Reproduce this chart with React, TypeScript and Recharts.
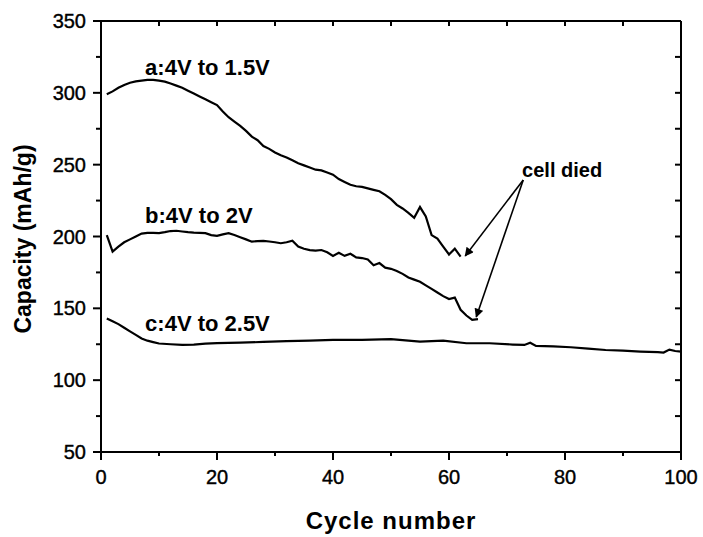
import React from 'react';
import { LineChart, Line, XAxis, YAxis, ReferenceDot, Label } from 'recharts';

const FONT = '"Liberation Sans", Arial, Helvetica, sans-serif';

// capacity (mAh/g) per cycle
const capA = [
  299, 301, 303.5, 305.5, 307, 308, 308.5, 309, 309, 308.5,
  307.8, 306.5, 305, 303.5, 301.5, 299.5, 297.5, 295.5, 293.5, 291.5,
  287, 283, 280, 277, 273.5, 269.5, 267, 263, 261, 258.5,
  256.5, 255, 253, 251, 249.5, 248, 246.5, 246, 244.5, 243,
  240, 238, 236, 235, 234.5, 233.5, 232.5, 231.5, 229, 226,
  222, 219.5, 216.5, 213, 220.5, 214, 201, 198.5, 193, 187.5,
  191.5, 186,
];
const capB = [
  201, 189.5, 193, 196, 198, 200, 202, 202.5, 202.5, 202.3,
  203, 203.8, 204, 203.5, 203, 202.7, 202.5, 202.3, 201, 200.4,
  201.5, 202.3, 201, 199.5, 198, 196.4, 196.8, 197, 196.5, 196,
  195.3, 196, 197.1, 193, 191.5, 190.5, 190.2, 190.6, 189, 186.5,
  188.7, 186.5, 188, 185.5, 185, 184, 180, 181.5, 178.3, 177.5,
  176, 174, 171.5, 170, 168.5, 166, 163.5, 161, 158.5, 156.5,
  157.5, 149, 145, 142, 142.5,
];
const cyclesC = [
  1, 2, 3, 4, 5, 6, 7, 8, 9, 10, 12, 14, 16, 18, 20, 24, 28, 32, 36, 40,
  45, 50, 55, 59, 63, 67, 71, 73, 74, 75, 78, 81, 84, 87, 90, 93, 96, 97, 98, 99, 100,
];
const capC = [
  143, 141, 139, 136.5, 134, 131.5, 129, 127.5, 126.5, 125.5, 125, 124.5, 124.8, 125.5, 125.8,
  126.1, 126.6, 127.2, 127.5, 128, 128, 128.5, 126.8, 127.5, 125.7, 125.7, 124.8, 124.5, 126,
  123.8, 123.5, 122.9, 122, 121, 120.5, 119.9, 119.5, 119.2, 121.3, 120.3, 119.9,
];

const xTicks = [0, 10, 20, 30, 40, 50, 60, 70, 80, 90, 100];
const xLabels = [0, 20, 40, 60, 80, 100];
const yTicks = [50, 75, 100, 125, 150, 175, 200, 225, 250, 275, 300, 325, 350];
const yLabels = [50, 100, 150, 200, 250, 300, 350];

// curve labels: text, cycle, capacity where the text starts
const seriesNames = ['a:4V to 1.5V', 'b:4V to 2V', 'c:4V to 2.5V'];
const nameCycle = [7.6, 7.6, 7.6];
const nameCap = [318, 215, 139.8];

// "cell died" note and the two arrows from it
const note = { text: 'cell died', cycle: 72.6, cap: 246.3 };
const arrowFrom = { cycle: 72.8, cap: 239.4 };
const arrowTo = [
  { cycle: 62.8, cap: 186.5 },
  { cycle: 64.7, cap: 144 },
];

const dataA = capA.map((v, i) => ({ cycle: i + 1, cap: v }));
const dataB = capB.map((v, i) => ({ cycle: i + 1, cap: v }));
const dataC = cyclesC.map((c, i) => ({ cycle: c, cap: capC[i] }));
const arrows = arrowTo.map((t) => [arrowFrom, t]);

const axisStyle = { stroke: '#000', strokeWidth: 2 };
const tickText = { fontFamily: FONT, fontSize: 20, fill: '#000', stroke: '#000', strokeWidth: 0.4 };

const BottomTick = (props: any) => {
  const { x, y, payload } = props;
  const major = xLabels.includes(payload.value);
  return (
    <g>
      <line x1={x} y1={y} x2={x} y2={y + (major ? 8 : 4)} stroke="#000" strokeWidth={2} />
      {major && (
        <text x={x} y={y + 32} textAnchor="middle" {...tickText}>
          {payload.value}
        </text>
      )}
    </g>
  );
};

const TopTick = (props: any) => {
  const { x, y } = props;
  return <line x1={x} y1={y} x2={x} y2={y + 5} stroke="#000" strokeWidth={2} />;
};

const LeftTick = (props: any) => {
  const { x, y, payload } = props;
  const major = yLabels.includes(payload.value);
  return (
    <g>
      <line x1={x} y1={y} x2={x - (major ? 8 : 5)} y2={y} stroke="#000" strokeWidth={2} />
      {major && (
        <text x={x - 15} y={y + 7} textAnchor="end" {...tickText}>
          {payload.value}
        </text>
      )}
    </g>
  );
};

const RightTick = (props: any) => {
  const { x, y } = props;
  return <line x1={x} y1={y} x2={x - 6} y2={y} stroke="#000" strokeWidth={2} />;
};

export default function App() {
  return (
    <div style={{ position: 'absolute', left: 0, top: 0 }}>
      <LineChart width={703} height={537} margin={{ top: 11, right: 12, left: 0, bottom: 0 }}>
        <defs>
          <marker id="head" viewBox="0 0 10 10" refX="9" refY="5" markerWidth="11" markerHeight="9"
            markerUnits="userSpaceOnUse" orient="auto">
            <path d="M0,0 L10,5 L0,10 z" fill="#000" />
          </marker>
        </defs>
        <XAxis
          dataKey="cycle"
          type="number"
          domain={[0, 100]}
          ticks={xTicks}
          height={85}
          tickSize={0}
          tickMargin={0}
          tickLine={false}
          axisLine={axisStyle}
          tick={(p: any) => <BottomTick {...p} />}
          interval={0}
        >
          <Label
            value="Cycle number"
            position="center"
            dy={26}
            style={{ fontFamily: FONT, fontSize: 24, fontWeight: 'bold', letterSpacing: 1, fill: '#000' }}
          />
        </XAxis>
        <XAxis
          xAxisId="top"
          dataKey="cycle"
          orientation="top"
          type="number"
          domain={[0, 100]}
          ticks={xTicks}
          height={10}
          tickSize={0}
          tickMargin={0}
          tickLine={false}
          axisLine={axisStyle}
          tick={(p: any) => <TopTick {...p} />}
          interval={0}
        />
        <YAxis
          type="number"
          domain={[50, 350]}
          ticks={yTicks}
          width={101}
          tickSize={0}
          tickMargin={0}
          tickLine={false}
          axisLine={axisStyle}
          tick={(p: any) => <LeftTick {...p} />}
          interval={0}
        >
          <Label
            value="Capacity (mAh/g)"
            angle={-90}
            position="center"
            dx={-27.5}
            dy={2.5}
            style={{ fontFamily: FONT, fontSize: 23, fontWeight: 'bold', fill: '#000' }}
          />
        </YAxis>
        <YAxis
          yAxisId="right"
          orientation="right"
          type="number"
          domain={[50, 350]}
          ticks={yTicks}
          width={10}
          tickSize={0}
          tickMargin={0}
          tickLine={false}
          axisLine={axisStyle}
          tick={(p: any) => <RightTick {...p} />}
          interval={0}
        />

        <Line data={dataA} dataKey="cap" type="linear" stroke="#000" strokeWidth={2.2} dot={false} isAnimationActive={false} />
        {/* b is tied to the mirror axes (same domains) so the top and right frame get drawn */}
        <Line data={dataB} dataKey="cap" xAxisId="top" yAxisId="right" type="linear" stroke="#000" strokeWidth={2.2} dot={false} isAnimationActive={false} />
        <Line data={dataC} dataKey="cap" type="linear" stroke="#000" strokeWidth={2.2} dot={false} isAnimationActive={false} />

        {arrows.map((d, i) => (
          <Line
            key={'arrow' + i}
            data={d}
            dataKey="cap"
            type="linear"
            stroke="#000"
            strokeWidth={1.6}
            dot={false}
            markerEnd="url(#head)"
            isAnimationActive={false}
          />
        ))}

        {seriesNames.map((name, i) => (
          <ReferenceDot
            key={name}
            x={nameCycle[i]}
            y={nameCap[i]}
            r={0}
            fill="none"
            stroke="none"
            label={{
              value: name,
              position: 'right',
              offset: 0,
              style: { fontFamily: FONT, fontSize: 22, fontWeight: 'bold', fill: '#000' },
            }}
          />
        ))}
        <ReferenceDot
          x={note.cycle}
          y={note.cap}
          r={0}
          fill="none"
          stroke="none"
          label={{
            value: note.text,
            position: 'right',
            offset: 0,
            style: { fontFamily: FONT, fontSize: 20, fontWeight: 'bold', fill: '#000' },
          }}
        />
      </LineChart>
    </div>
  );
}
